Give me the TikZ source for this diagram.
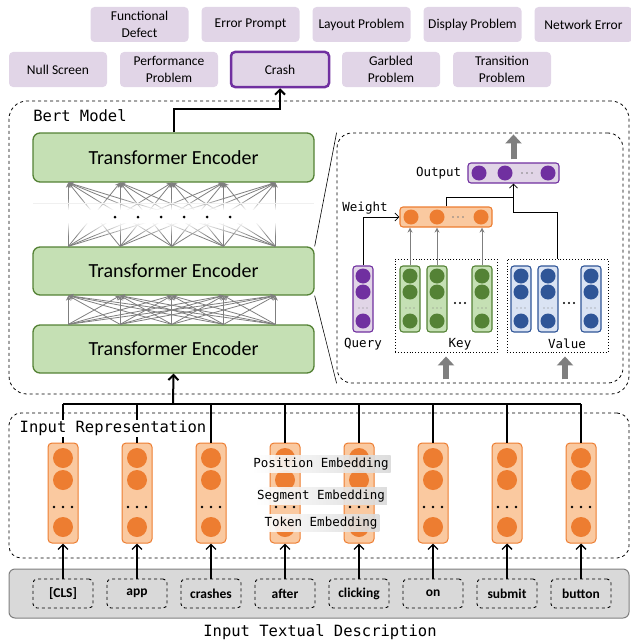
\documentclass[tikz,border=0pt]{standalone}
\usepackage{fontspec}
\setmainfont{Carlito}
\newfontfamily\codefont{DejaVu Sans Mono}
\usetikzlibrary{arrows.meta,fadings,positioning}

\definecolor{lilac}{HTML}{E1D5E7}
\definecolor{plum}{HTML}{7030A0}
\definecolor{leaf}{HTML}{C5E0B4}
\definecolor{moss}{HTML}{548235}
\definecolor{peach}{HTML}{FAC9A0}
\definecolor{tangerine}{HTML}{ED7D31}
\definecolor{sky}{HTML}{DAE3F3}
\definecolor{navy}{HTML}{2F5597}
\definecolor{ash}{HTML}{D9D9D9}
\definecolor{slate}{HTML}{7F7F7F}

\tikzset{
  category/.style = {rounded corners = 4pt, fill = lilac, minimum width = 98pt, minimum height = 35pt, align = center, inner sep = 1pt, font = \fontsize{13.5}{17}\selectfont},
  encoder/.style = {rounded corners = 7pt, fill = leaf, draw = moss, line width = 1.3pt, minimum width = 281pt, minimum height = 48pt, font = \fontsize{20}{22}\selectfont},
  tag/.style = {font = \codefont\fontsize{15.5}{17}\selectfont, inner sep = 1pt},
  smalltag/.style = {font = \codefont\fontsize{12.5}{14}\selectfont, inner sep = 1pt},
  embedtag/.style = {smalltag, left color = white, right color = gray!30, fill opacity = .9, text opacity = 1, inner sep = 2pt},
  region/.style = {draw, dashed, line width = .8pt, rounded corners = 18pt},
  token/.style = {draw, dashed, line width = .9pt, rounded corners = 4pt, minimum width = 60pt, minimum height = 29pt, font = \bfseries\fontsize{13.5}{15}\selectfont},
  embedcol/.style = {rounded corners = 4pt, fill = peach, draw = tangerine, line width = 1pt, minimum width = 30pt, minimum height = 100pt},
  cell/.style 2 args = {rounded corners = 3pt, fill = #1, draw = #2, line width = 1.1pt, inner sep = 0pt},
  link/.style = {draw = slate, line width = .8pt, -{Stealth[length = 5pt, width = 5pt]}},
  thinlink/.style = {draw = slate, line width = .9pt, -{Stealth[length = 5pt, width = 5pt]}},
  bigarrow/.style = {draw = slate, line width = 6pt, -{Triangle[length = 9pt, width = 16pt]}},
  flow/.style = {line width = #1, -{Straight Barb[length = 5pt, width = 10pt]}}
}

\begin{document}
\begin{tikzpicture}[x = 1pt, y = -1pt, >= {Straight Barb[length = 4pt, width = 8pt]}]
\useasboundingbox (0,0) rectangle (631,642);

% defect classes
\node[category] (defect) at (139.5,24.5) {Functional\\Defect};
\node[category] (prompt) at (250.5,24.5) {Error Prompt};
\node[category] (layout) at (361.5,24.5) {Layout Problem};
\node[category] (display) at (472.5,24.5) {Display Problem};
\node[category] (network) at (583.5,24.5) {Network Error};
\node[category] (blank) at (58,69.5) {Null Screen};
\node[category] (perf) at (169,69.5) {Performance\\Problem};
\node[category, draw = plum, line width = 2.5pt] (crash) at (280,69.5) {Crash};
\node[category] (garbled) at (391,69.5) {Garbled\\Problem};
\node[category] (transit) at (502,69.5) {Transition\\Problem};

% bert model
\node[region, minimum width = 620pt, minimum height = 293pt] (bert) at (319,247.5) {};
\node[tag] (bertlbl) at (80,116) {Bert Model};
\node[encoder] (enc1) at (173.5,349) {Transformer Encoder};
\node[encoder] (enc2) at (173.5,271) {Transformer Encoder};
\node[encoder, minimum height = 49pt] (enc3) at (173.5,157.5) {Transformer Encoder};
\foreach \a in {0,...,4} {
  \path (enc1.north west) ++(36+51.75*\a,0) coordinate (e1t\a);
  \path (enc2.south west) ++(36+51.75*\a,0) coordinate (e2b\a);
  \path (enc2.north west) ++(36+51.75*\a,0) coordinate (e2t\a);
  \path (enc3.south west) ++(36+51.75*\a,0) coordinate (e3b\a);
}
\foreach \a in {0,...,4}
  \foreach \b in {0,...,4} {
    \draw[link] (e1t\a) -- (e2b\b);
    \draw[link] (e2t\a) -- (e3b\b);
  }
\fill[white, path fading = north] (28,198) rectangle (319,210);
\fill[white] (28,210) rectangle (319,222);
\fill[white, path fading = south] (28,222) rectangle (319,236);
\draw[gray!12] (33,203) -- (314,203);
\foreach \x in {115,138,161,184,207,230} \fill (\x,217) circle (1.5pt);
\draw[flow = 2pt] (enc3.north) -- ++(0,-23) -| (crash.south);

% attention
\node[region, rounded corners = 15pt, minimum width = 286pt, minimum height = 250pt] (att) at (480,258) {};
\draw[line width = .6pt] (enc2.north east) -- (att.north west);
\draw[line width = .6pt] (enc2.south east) -- (att.south west);

\node[cell = {lilac}{plum}, minimum width = 91pt, minimum height = 20pt] (out) at (513.5,173) {};
\foreach \x in {479,505,548} \fill[plum] (\x,173) circle (7.5pt);
\foreach \x in {522,527,532} \fill[gray] (\x,173) circle (.8pt);
\node[smalltag, left = 5pt of out] (outlbl) {Output};
\draw[bigarrow] ([yshift = 3pt]out.north) -- ([yshift = 28pt]out.north);

\node[cell = {peach}{tangerine}, minimum width = 92pt, minimum height = 20pt] (weight) at (446,217) {};
\foreach \x in {411,437,481} \fill[tangerine] (\x,217) circle (7.5pt);
\foreach \x in {453,458,463} \fill[gray] (\x,217) circle (.8pt);
\node[smalltag] (weightlbl) at (365,208) {Weight};

\node[cell = {lilac}{plum}, minimum width = 20pt, minimum height = 66pt] (query) at (363,299) {};
\foreach \y in {276,292,321} \fill[plum] (363,\y) circle (7.5pt);
\foreach \d in {-4,0,4} \fill[gray] (363+\d,308) circle (.7pt);
\node[smalltag] (querylbl) at (363,344) {Query};

\node[draw, dotted, line width = .9pt, minimum width = 102pt, minimum height = 93pt] (keys) at (446,305.5) {};
\foreach \x [count = \k] in {410,437,482} {
  \node[cell = {leaf}{moss}, minimum width = 20pt, minimum height = 66pt] (key\k) at (\x,299) {};
  \foreach \y in {276,292,321} \fill[moss] (\x,\y) circle (7.5pt);
  \foreach \d in {-4,0,4} \fill[gray] (\x+\d,308) circle (.7pt);
  \draw[thinlink] (key\k.north) -- (key\k.north |- weight.south);
}
\foreach \x in {455,460,465} \fill (\x,303) circle (1.2pt);
\node[smalltag] (keylbl) at (460,344) {Key};

\node[draw, dotted, line width = .9pt, minimum width = 101pt, minimum height = 93pt] (values) at (557.5,305.5) {};
\foreach \x [count = \k] in {521,548,591} {
  \node[cell = {sky}{navy}, minimum width = 20pt, minimum height = 66pt] (val\k) at (\x,299) {};
  \foreach \y in {276,292,321} \fill[navy] (\x,\y) circle (7.5pt);
  \foreach \d in {-4,0,4} \fill[gray] (\x+\d,308) circle (.7pt);
}
\foreach \x in {564,569,574} \fill (\x,303) circle (1.2pt);
\node[smalltag] (vallbl) at (567,344) {Value};

\draw[line width = .8pt, ->] (query.north) |- (weight.west);
\draw[line width = .8pt] (weight.north) |- (out.south |- 0,197);
\draw[line width = .8pt, ->] (values.north) |- (out.south |- 0,212) -- (out.south);
\draw[bigarrow] ([yshift = -27pt]keys.south) -- ([yshift = -4pt]keys.south);
\draw[bigarrow] ([xshift = 7.5pt, yshift = -27pt]values.south) -- ([xshift = 7.5pt, yshift = -4pt]values.south);

% input representation
\node[region, rounded corners = 12pt, minimum width = 620pt, minimum height = 145pt] (inrep) at (319,485.5) {};
\node[fill = ash, draw = slate, line width = 1pt, rounded corners = 6pt, minimum width = 620pt, minimum height = 49pt] (desc) at (319,593.5) {};
\node[tag] (desclbl) at (320,632) {Input Textual Description};
\foreach \w [count = \i from 0] in {{[CLS]},app,crashes,after,clicking,on,submit,button} {
  \pgfmathsetmacro\cx{63+74*\i}
  \node[embedcol] (col\i) at (\cx,493) {};
  \foreach \y in {458,480,527} \fill[tangerine] (\cx,\y) circle (10pt);
  \foreach \d in {-9,0,9} \fill (\cx+\d,507) circle (1.3pt);
  \node[token] (tok\i) at (\cx,593.5) {\w};
  \draw[flow = 1.3pt] (tok\i) -- (col\i);
  \draw[line width = 1.2pt] (col\i) -- (col\i.north |- 0,404);
}
\draw[line width = 1.6pt] (col0.north |- 0,404) -- (col7.north |- 0,404);
\coordinate (hub) at (173,404);
\draw[flow = 2pt] (hub) -- (enc1.south);
\node[tag, fill = white] (inreplbl) at (113,428) {Input Representation};
\node[embedtag] (posemb) at (321,464) {Position Embedding};
\node[embedtag] (segemb) at (321,496) {Segment Embedding};
\node[embedtag] (tokemb) at (321,523) {Token Embedding};
\end{tikzpicture}
\end{document}
